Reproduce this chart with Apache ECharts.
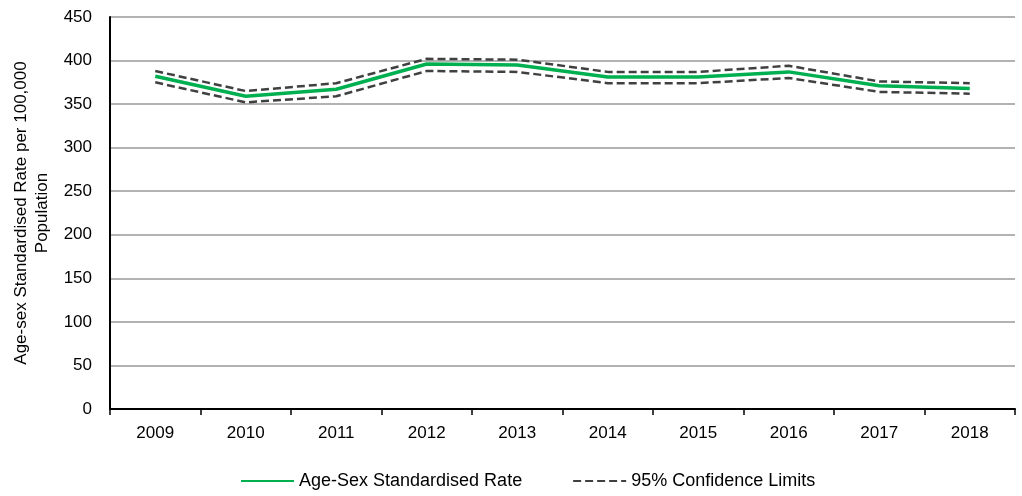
<!DOCTYPE html>
<html>
<head>
<meta charset="utf-8">
<script src="https://cdn.jsdelivr.net/npm/echarts@6/dist/echarts.min.js"></script>
<style>
  html, body { margin: 0; padding: 0; background: #fff; }
  #main { width: 1022px; height: 496px; }
</style>
</head>
<body>
<div id="main"></div>
<script>
var years = ['2009', '2010', '2011', '2012', '2013', '2014', '2015', '2016', '2017', '2018'];
var rate = [382, 359, 367, 396, 395, 381, 381, 387, 371, 368];
var upper = [388, 365, 374, 402, 401, 387, 387, 394, 376, 374];
var lower = [375, 352, 359, 388, 387, 374, 374, 380, 364, 362];

var font = 'Liberation Sans';
var myChart = echarts.init(document.getElementById('main'));

myChart.setOption({
    animation: false,
    textStyle: { fontFamily: font },
    grid: { left: 110, right: 7, top: 17, bottom: 87, outerBoundsMode: 'none' },
    legend: {
        top: 472,
        left: 240,
        padding: 0,
        itemWidth: 53,
        itemHeight: 18,
        itemGap: 50,
        itemStyle: { opacity: 0 },
        textStyle: { fontSize: 18, color: '#000', fontFamily: font },
        data: ['Age-Sex Standardised Rate', '95% Confidence Limits']
    },
    xAxis: {
        type: 'category',
        data: years,
        boundaryGap: true,
        axisLine: { lineStyle: { color: '#000', width: 2 } },
        axisTick: { show: true, length: 6, lineStyle: { color: '#000', width: 1.5 } },
        axisLabel: { color: '#000', fontSize: 17, margin: 16 }
    },
    yAxis: {
        type: 'value',
        min: 0,
        max: 450,
        interval: 50,
        name: 'Age-sex Standardised Rate per 100,000\nPopulation',
        nameLocation: 'middle',
        nameGap: 57,
        nameTextStyle: { color: '#000', fontSize: 17, lineHeight: 21 },
        axisLine: { show: true, lineStyle: { color: '#000', width: 2 } },
        axisTick: { show: false },
        axisLabel: { color: '#000', fontSize: 17, margin: 18 },
        splitLine: { lineStyle: { color: '#999', width: 1.5 } }
    },
    series: [
        {
            name: 'Age-Sex Standardised Rate',
            type: 'line',
            data: rate,
            symbol: 'none',
            color: '#00b050',
            lineStyle: { color: '#00b050', width: 3.5 }
        },
        {
            name: '95% Confidence Limits',
            type: 'line',
            data: upper,
            symbol: 'none',
            color: '#404040',
            lineStyle: { color: '#404040', width: 2.5, type: [8, 4] }
        },
        {
            name: '95% Confidence Limits',
            type: 'line',
            data: lower,
            symbol: 'none',
            color: '#404040',
            lineStyle: { color: '#404040', width: 2.5, type: [8, 4] }
        }
    ]
});
</script>
</body>
</html>
